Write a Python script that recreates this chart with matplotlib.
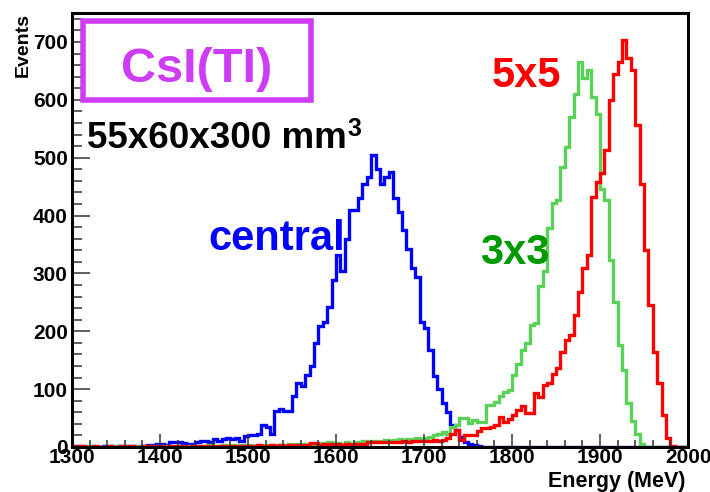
import matplotlib
matplotlib.use("Agg")
import matplotlib.pyplot as plt
import numpy as np
from matplotlib.patches import Rectangle
from matplotlib.ticker import MultipleLocator

plt.rcParams['font.family'] = ['Liberation Sans', 'DejaVu Sans']
plt.rcParams['font.weight'] = 'bold'

# ---- data: 5 MeV bins from 1300 to 2000 MeV ----
bin_lo, bin_hi, bin_w = 1300, 2000, 5

central = [2, 2, 0, 0, 1, 0, 0, 1, 2, 2,
           2, 1, 1, 0, 1, 2, 2, 3, 3, 6,
           5, 4, 9, 9, 8, 7, 6, 6, 9, 10,
           10, 8, 14, 11, 14, 15, 13, 16, 10, 19,
           20, 21, 23, 38, 35, 22, 63, 65, 62, 62,
           88, 110, 106, 124, 140, 179, 209, 216, 242, 288,
           331, 305, 360, 410, 410, 430, 455, 467, 504, 480,
           455, 467, 475, 430, 406, 375, 343, 309, 294, 216,
           205, 168, 122, 100, 76, 60, 38, 29, 18, 9,
           6, 4, 1, 0, 0, 0, 0, 0, 0, 0,
           0, 0, 0, 0, 0, 0, 0, 0, 0, 0,
           0, 0, 0, 0, 0, 0, 0, 0, 0, 0,
           0, 0, 0, 0, 0, 0, 0, 0, 0, 0,
           0, 0, 0, 0, 0, 0, 0, 0, 0, 0]

sum3x3 = [0, 0, 0, 1, 0, 0, 0, 0, 0, 1,
          0, 1, 2, 2, 1, 0, 1, 1, 0, 1,
          1, 1, 2, 1, 2, 1, 1, 2, 2, 1,
          2, 3, 2, 2, 3, 2, 3, 2, 3, 3,
          3, 2, 3, 4, 3, 3, 4, 4, 3, 5,
          4, 5, 5, 6, 5, 6, 7, 6, 8, 7,
          7, 6, 8, 6, 9, 8, 10, 9, 10, 9,
          11, 12, 10, 12, 13, 11, 14, 13, 15, 14,
          15, 17, 20, 23, 26, 22, 35, 38, 50, 50,
          41, 47, 44, 44, 72, 72, 78, 88, 95, 98,
          124, 144, 167, 179, 211, 214, 278, 305, 378, 421,
          426, 484, 519, 570, 610, 665, 638, 651, 605, 575,
          445, 426, 323, 250, 176, 133, 76, 45, 22, 5,
          0, 0, 0, 0, 0, 0, 0, 0, 0, 0]

sum5x5 = [1, 0, 1, 0, 0, 1, 0, 0, 1, 0,
          0, 1, 0, 1, 0, 0, 1, 1, 0, 1,
          1, 0, 1, 2, 1, 1, 0, 2, 1, 1,
          1, 2, 1, 2, 1, 2, 2, 1, 2, 2,
          2, 1, 3, 2, 2, 3, 2, 3, 2, 3,
          3, 4, 3, 4, 7, 7, 4, 5, 5, 4,
          5, 4, 5, 5, 6, 5, 6, 8, 9, 8,
          8, 9, 8, 9, 9, 10, 9, 10, 10, 11,
          10, 11, 12, 11, 12, 15, 22, 29, 12, 21,
          21, 21, 27, 32, 32, 35, 38, 52, 44, 49,
          55, 64, 70, 58, 58, 93, 87, 107, 110, 127,
          136, 165, 185, 193, 228, 268, 309, 332, 432, 458,
          473, 513, 600, 645, 665, 703, 672, 651, 556, 455,
          340, 245, 165, 110, 55, 15, 2, 0, 0, 0]

xticks = [1300, 1400, 1500, 1600, 1700, 1800, 1900, 2000]
yticks = [0, 100, 200, 300, 400, 500, 600, 700]

# ---- figure ----
W, H = 710, 492
fig = plt.figure(figsize=(W / 100, H / 100), dpi=100)
fig.patch.set_facecolor('white')


def fx(px):
    return px / W


def fy(py):
    return 1 - py / H


ax = fig.add_axes([fx(72), fy(447), fx(688) - fx(72), fy(13) - fy(447)])
edges = np.arange(bin_lo, bin_hi + bin_w, bin_w)
ax.stairs(central, edges, color='#0000ff', lw=2.4, baseline=None)
ax.stairs(sum3x3, edges, color='#5ad25a', lw=2.4, baseline=None)
ax.stairs(sum5x5, edges, color='#ff0000', lw=2.4, baseline=None)

ax.set_xlim(1300, 2000)
ax.set_ylim(0, 750)
ax.set_xticks(xticks)
ax.set_yticks(yticks)
ax.xaxis.set_minor_locator(MultipleLocator(20))
ax.yaxis.set_minor_locator(MultipleLocator(20))
ax.tick_params(which='both', direction='in', top=False, right=False,
               color='#333333', width=1.1, labelsize=15)
ax.tick_params(axis='x', which='major', length=9.5, pad=0.5)
ax.tick_params(axis='x', which='minor', length=5)
ax.tick_params(axis='y', which='major', length=13, pad=3)
ax.tick_params(axis='y', which='minor', length=7)
for lab in ax.get_xticklabels() + ax.get_yticklabels():
    lab.set_fontweight('bold')
for sp in ax.spines.values():
    sp.set_linewidth(2.2)
    sp.set_color('black')

# axis titles
fig.text(fx(23.5), fy(13), 'Events', rotation=90, ha='center', va='top',
         fontsize=14, fontweight='bold')
fig.text(fx(686), fy(487), 'Energy (MeV)', ha='right', va='baseline',
         fontsize=15.5, fontweight='bold')

# CsI(Tl) box
mag = '#cc3df5'
fig.add_artist(Rectangle((fx(83), fy(100)), fx(311) - fx(83), fy(21) - fy(100),
                         transform=fig.transFigure, facecolor='white',
                         edgecolor=mag, linewidth=4))
fig.text(fx(197), fy(82), 'CsI(TI)', ha='center', va='baseline',
         fontsize=35, fontweight='bold', color=mag)

t = fig.text(fx(87), fy(148), '55x60x300 mm', ha='left', va='baseline',
             fontsize=26.5, fontweight='bold', color='black')
ax.annotate('3', xy=(1, 1), xycoords=t, xytext=(0.5, 3), textcoords='offset points',
            ha='left', va='top', fontsize=18, fontweight='bold', color='black',
            annotation_clip=False)

fig.text(fx(208), fy(250), 'central', ha='left', va='baseline',
         fontsize=30, fontweight='bold', color='#0000ff')
fig.text(fx(480), fy(264), '3x3', ha='left', va='baseline',
         fontsize=30, fontweight='bold', color='#009900')
fig.text(fx(492), fy(87), '5x5', ha='left', va='baseline',
         fontsize=30, fontweight='bold', color='#ff0000')

fig.savefig('out.png', dpi=100)
